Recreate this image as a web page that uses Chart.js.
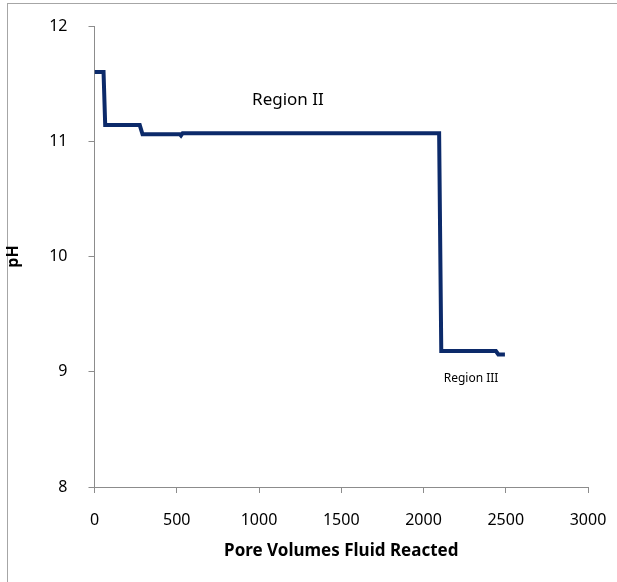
<!DOCTYPE html>
<html>
<head>
<meta charset="utf-8">
<script src="https://cdn.jsdelivr.net/npm/chart.js@4"></script>
<style>
  html, body { margin: 0; padding: 0; background: #fff; }
  #wrap { position: relative; width: 617px; height: 582px; overflow: hidden; }
  #frame { position: absolute; left: 7px; top: 3px; width: 700px; height: 700px;
           border-left: 1px solid #a6a6a6; border-top: 1px solid #a6a6a6; }
  canvas { position: absolute; left: 0; top: 0; }
</style>
</head>
<body>
<div id="wrap">
  <div id="frame"></div>
  <canvas id="c" width="617" height="582"></canvas>
</div>
<script>
// Pore volumes of fluid reacted and the resulting pH
const poreVolumes = [0, 55, 65, 275, 292, 520, 526, 536, 2095, 2108, 2440, 2455, 2495];
const phValues    = [11.60, 11.60, 11.14, 11.14, 11.06, 11.06, 11.05, 11.07, 11.07, 9.18, 9.18, 9.15, 9.15];

const xTicks = [0, 500, 1000, 1500, 2000, 2500, 3000];
const yTicks = [8, 9, 10, 11, 12];

// Region labels placed in data coordinates
const regionLabels = [
  { text: 'Region II',  x: 1176, y: 11.36, size: 17 },
  { text: 'Region III', x: 2289, y: 8.94,  size: 12 }
];

const FONT = "'Noto Sans', 'Open Sans', sans-serif";
const AXIS_GRAY = '#8c8c8c';

const regionLabelPlugin = {
  id: 'regionLabels',
  afterDatasetsDraw(chart) {
    const { ctx, scales } = chart;
    ctx.save();
    ctx.fillStyle = '#000';
    ctx.textAlign = 'center';
    ctx.textBaseline = 'middle';
    regionLabels.forEach(l => {
      ctx.font = l.size + 'px ' + FONT;
      ctx.fillText(l.text, scales.x.getPixelForValue(l.x), scales.y.getPixelForValue(l.y));
    });
    ctx.restore();
  }
};

new Chart(document.getElementById('c'), {
  type: 'line',
  data: {
    datasets: [{
      data: poreVolumes.map((v, i) => ({ x: v, y: phValues[i] })),
      borderColor: '#0c2a6a',
      borderWidth: 4,
      pointRadius: 0,
      tension: 0,
      fill: false,
      borderJoinStyle: 'miter'
    }]
  },
  options: {
    responsive: false,
    animation: false,
    layout: { padding: { top: 26, right: 29, left: 0, bottom: 0 } },
    plugins: { legend: { display: false }, tooltip: { enabled: false } },
    scales: {
      x: {
        type: 'linear',
        min: 0, max: 3000,
        afterBuildTicks: s => { s.ticks = xTicks.map(v => ({ value: v })); },
        afterFit: s => { s.height = 95; s.paddingLeft = 0; s.paddingRight = 0; },
        grid: { display: true, drawOnChartArea: false, drawTicks: true, tickLength: 6, color: AXIS_GRAY },
        border: { display: true, color: AXIS_GRAY, width: 1 },
        ticks: { color: '#000', font: { family: FONT, size: 16 }, padding: 18, maxRotation: 0,
                 callback: v => String(v) },
        title: { display: true, text: 'Pore Volumes Fluid Reacted', color: '#000',
                 font: { family: FONT, size: 17, weight: 'bold' }, padding: { top: 4, bottom: 21 } }
      },
      y: {
        type: 'linear',
        min: 8, max: 12,
        afterBuildTicks: s => { s.ticks = yTicks.map(v => ({ value: v })); },
        afterFit: s => { s.width = 94.5; s.paddingTop = 0; s.paddingBottom = 0; },
        grid: { display: true, drawOnChartArea: false, drawTicks: true, tickLength: 6, color: AXIS_GRAY },
        border: { display: true, color: AXIS_GRAY, width: 1 },
        ticks: { color: '#000', font: { family: FONT, size: 16 }, padding: 21,
                 callback: v => String(v) },
        title: { display: true, text: 'pH', color: '#000',
                 font: { family: FONT, size: 16, weight: 'bold' }, padding: { top: 4, bottom: 0 } }
      }
    }
  },
  plugins: [regionLabelPlugin]
});
</script>
</body>
</html>
